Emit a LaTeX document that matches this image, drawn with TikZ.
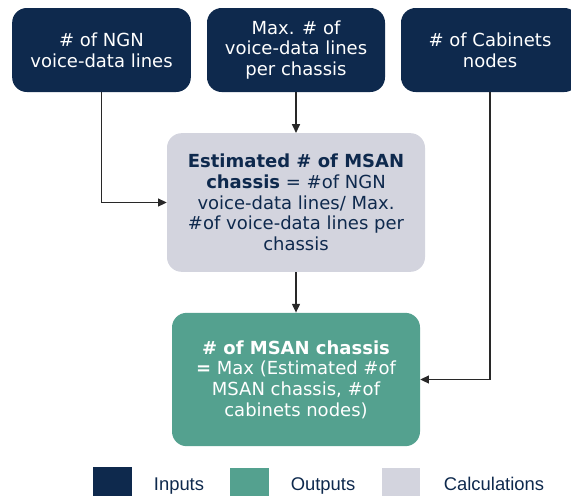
\documentclass[tikz,border=0pt]{standalone}
\usepackage{fontspec}
\setmainfont{DejaVu Sans}
\newfontfamily\legendfont{Liberation Sans}
\usetikzlibrary{arrows.meta}
\definecolor{inputblue}{RGB}{14,41,77}
\definecolor{outputteal}{RGB}{84,161,143}
\definecolor{calcgray}{RGB}{211,212,222}
\definecolor{linegray}{RGB}{40,40,40}
\tikzset{
  inbox/.style={fill=inputblue,text=white,rounded corners=11pt,inner sep=0pt,align=center,
    font=\fontsize{13.5}{15.5}\selectfont,minimum height=63pt},
  calcbox/.style={fill=calcgray,text=inputblue,rounded corners=11pt,inner sep=0pt,align=center,
    font=\fontsize{13.5}{15.5}\selectfont},
  outbox/.style={fill=outputteal,text=white,rounded corners=11pt,inner sep=0pt,align=center,
    font=\fontsize{13.5}{15.5}\selectfont},
  feed/.style={draw=linegray,line width=0.8pt,-{Triangle[length=6.5pt,width=6pt]}},
  legendsq/.style={inner sep=0pt,minimum width=29pt,minimum height=21.5pt},
  legendtxt/.style={text=inputblue,font=\legendfont\fontsize{13.8}{15}\selectfont,inner sep=0pt,anchor=base}
}
\begin{document}
\begin{tikzpicture}[x=0.75pt,y=0.75pt,yscale=-1,xscale=1]
\useasboundingbox (0,0) rectangle (571,497);

% Inputs
\node [inbox,minimum width=134pt] (ngn) at (101.5,50) {\# of NGN\\voice-data lines};
\node [inbox,minimum width=133.5pt] (maxlines) at (296,50) {Max. \# of\\voice-data lines\\per chassis};
\node [inbox,minimum width=133.5pt] (cabinets) at (490,50) {\# of Cabinets\\nodes};

% Calculation
\node [calcbox,minimum width=193.5pt,minimum height=104pt] (estim) at (296,202.5)
  {\textbf{Estimated \# of MSAN}\\\textbf{chassis} = \#of NGN\\voice-data lines/ Max.\\\#of voice-data lines per\\chassis};

% Output
\node [outbox,minimum width=186pt,minimum height=100pt] (msan) at (296,379.5)
  {\textbf{\# of MSAN chassis}\\\textbf{=} Max (Estimated \#of\\MSAN chassis, \#of\\cabinets nodes)};

% Connectors
\draw [feed] (ngn.south) |- (estim.west);
\draw [feed] (maxlines.south) -- (estim.north);
\draw [feed] (estim.south) -- (msan.north);
\draw [feed] (cabinets.south) |- (msan.east);

% Legend
\node [legendsq,fill=inputblue] (keyin) at (112.5,481.5) {};
\node [legendtxt] (keyintxt) at (179,490.5) {Inputs};
\node [legendsq,fill=outputteal] (keyout) at (249.5,482) {};
\node [legendtxt] (keyouttxt) at (323,490.5) {Outputs};
\node [legendsq,fill=calcgray] (keycalc) at (401,482) {};
\node [legendtxt] (keycalctxt) at (494,490.5) {Calculations};

\end{tikzpicture}
\end{document}
